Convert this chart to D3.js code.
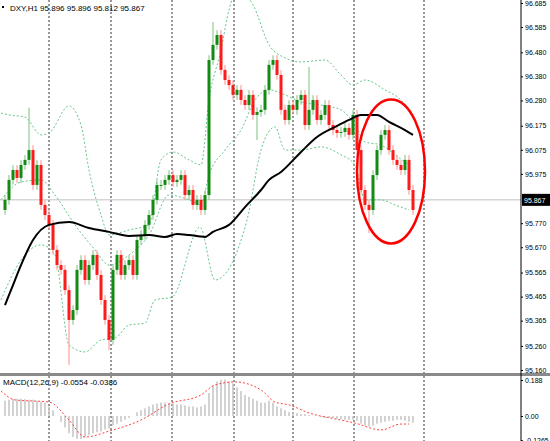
<!DOCTYPE html>
<html><head><meta charset="utf-8">
<script src="https://cdn.jsdelivr.net/npm/d3@7"></script>
<style>body{margin:0;background:#fff}text{font-family:"Liberation Sans",Arial,sans-serif}</style>
</head><body><svg id="chart" width="550" height="441"></svg>
<script>
// closes, one per hourly candle (open = previous close)
const closes = [95.867,95.950,95.991,95.958,96.012,96.033,96.074,95.929,96.012,95.846,
95.804,95.763,95.659,95.596,95.576,95.492,95.368,95.409,95.576,95.617,
95.534,95.596,95.638,95.555,95.451,95.368,95.285,95.576,95.638,95.555,
95.596,95.617,95.555,95.700,95.721,95.763,95.804,95.867,95.929,95.929,
95.950,95.970,95.941,95.950,95.970,95.887,95.908,95.846,95.867,95.825,
95.887,96.448,96.511,96.552,96.407,96.365,96.344,96.303,96.324,96.282,
96.261,96.303,96.220,96.232,96.241,96.324,96.428,96.448,96.386,96.241,
96.199,96.261,96.241,96.282,96.303,96.178,96.241,96.282,96.199,96.220,
96.261,96.178,96.157,96.145,96.149,96.166,96.137,96.220,96.074,95.908,
95.846,95.825,95.970,96.074,96.137,96.157,96.074,96.033,96.012,95.991,
96.033,95.908,95.825];
const firstOpen = 95.825;
const highs = {6: 96.25, 52: 96.606, 76: 96.419};
const lows = {16: 95.181, 26: 95.243, 63: 96.116, 91: 95.729};

const maIdx = [0,2,4,7,11,16,21,26,31,36,40,43,46,50,52,56,60,64,66,69,74,78,83,86,89,93,96,100,102];
const maVal = [95.430,95.513,95.596,95.700,95.763,95.775,95.750,95.734,95.717,95.721,95.713,95.725,95.721,95.713,95.734,95.763,95.837,95.908,95.950,95.983,96.066,96.128,96.174,96.199,96.220,96.220,96.191,96.157,96.137];

const upIdx = [-1,1,5,9,11,16,19,21,24,26,31,36,39,42,46,49,51,54,56,58,62,66,70,74,80,84,87,90,95,99,101];
const upVal = [96.228,96.220,96.211,96.137,96.145,96.257,96.178,95.991,95.804,95.721,95.742,95.763,96.033,96.066,96.033,96.012,96.282,96.490,96.656,96.739,96.677,96.511,96.457,96.440,96.448,96.386,96.344,96.365,96.324,96.282,96.241];
const midIdx = [-1,4,9,12.5,17.5,22.5,26,31,36,41,46,49,51,55,59,62.5,66,70,74,79,84,87.5,90,94,97.5,101];
const midVal = [95.867,95.941,95.950,95.887,95.763,95.659,95.596,95.638,95.721,95.887,95.867,95.846,95.970,96.074,96.157,96.282,96.324,96.303,96.274,96.261,96.241,96.178,96.108,96.095,96.054,96.012];
const loIdx = [-1,4,9,12.5,16,20,24,27.5,31,35,37.5,41.75,48.75,52.5,60.5,64,67.5,70,74,79,84,87.5,90,94,97.5,101];
const loVal = [95.451,95.617,95.680,95.638,95.264,95.235,95.285,95.293,95.347,95.355,95.451,95.463,95.754,95.534,95.783,96.074,96.170,96.074,96.074,96.087,96.054,96.012,95.867,95.867,95.846,95.825];

const macdHist = [0.08,0.085,0.09,0.09,0.09,0.088,0.085,0.085,0.08,0.075,0.07,0.05,
0.03,0.0,-0.03,
-0.06,-0.09,-0.11,-0.12,-0.12,-0.11,-0.10,
-0.09,-0.085,-0.08,-0.07,-0.065,
-0.05,-0.04,-0.03,-0.02,-0.01,0.0,0.02,0.03,
0.04,0.05,0.06,0.065,0.07,0.07,0.065,0.065,0.06,0.06,0.055,0.05,0.05,0.045,
0.05,0.06,
0.12,0.16,0.18,0.19,0.19,0.18,0.17,0.15,
0.13,0.11,0.10,0.09,0.08,0.07,0.07,0.08,0.07,
0.05,0.04,0.03,0.02,0.02,0.015,
0.01,0.01,0.005,0.0,0.0,-0.005,-0.01,-0.01,
-0.01,-0.015,-0.015,-0.02,-0.02,-0.02,-0.025,
-0.04,-0.05,-0.055,-0.05,
-0.04,-0.035,-0.03,-0.025,-0.025,-0.02,-0.02,-0.025,-0.03,-0.035];
const sigIdx = [-1,2.5,11,16,20,26,34,41,49,52.5,57.5,64,67.5,71,76,84,87.5,94,99,101];
const sigVal = [0.131,0.084,0.073,-0.021,-0.110,-0.079,-0.021,0.063,0.110,0.162,0.178,0.136,0.073,0.058,0.016,-0.021,-0.037,-0.073,-0.042,-0.042];

const priceTicks = [96.685,96.585,96.480,96.380,96.280,96.175,96.075,95.975,95.770,95.670,95.565,95.465,95.365,95.260,95.160];
const macdTicks = [["0.188",0.188],["0.00",0],["-0.1265",-0.1265]];
const lastPrice = 95.867;
const gridIdx = [11,26.5,41.75,57.25,72,87.25,104.75];

const svg = d3.select("#chart");
const W = 521;
const x = d3.scaleLinear().domain([0, 102]).range([5, 413]);
const y = d3.scaleLinear().domain([95.160, 96.685]).range([370, 3]);
const ym = d3.scaleLinear().domain([0, 0.188]).range([416, 380]);

// vertical dotted grid
svg.selectAll(".grid").data(gridIdx).enter().append("line")
  .attr("x1", d => x(d)).attr("x2", d => x(d)).attr("y1", 0).attr("y2", 441)
  .attr("stroke", "#333").attr("stroke-dasharray", "2,2").attr("stroke-width", 1);

// last price line
svg.append("line").attr("x1", 0).attr("x2", W).attr("y1", y(lastPrice)).attr("y2", y(lastPrice))
  .attr("stroke", "#c0c0c0");

// bollinger bands
const bandLine = d3.line().x(d => x(d[0])).y(d => y(d[1])).curve(d3.curveMonotoneX);
[[upIdx, upVal], [midIdx, midVal], [loIdx, loVal]].forEach(b => {
  svg.append("path").attr("d", bandLine(d3.zip(b[0], b[1])))
    .attr("fill", "none").attr("stroke", "#66c68a").attr("stroke-dasharray", "2,2").attr("stroke-width", 1);
});

// candles
const candles = closes.map((c, i) => {
  const o = i == 0 ? firstOpen : closes[i - 1];
  return {i: i, o: o, c: c,
    h: highs[i] || Math.max(o, c) + 0.02,
    l: lows[i] || Math.min(o, c) - 0.02};
});
const col = d => d.c >= d.o ? "#138a13" : "#ff1a1a";
svg.selectAll(".wick").data(candles).enter().append("line")
  .attr("x1", d => x(d.i)).attr("x2", d => x(d.i)).attr("y1", d => y(d.h)).attr("y2", d => y(d.l))
  .attr("stroke", d => d.c >= d.o ? "#7cc07c" : "#ff8c8c").attr("stroke-width", 1);
svg.selectAll(".body").data(candles).enter().append("rect")
  .attr("x", d => x(d.i) - 1.5).attr("width", 3)
  .attr("y", d => y(Math.max(d.o, d.c)))
  .attr("height", d => Math.max(1, Math.abs(y(d.o) - y(d.c))))
  .attr("fill", col);

// moving average
svg.append("path").attr("d", bandLine(d3.zip(maIdx, maVal)))
  .attr("fill", "none").attr("stroke", "#000").attr("stroke-width", 2);

// highlight ellipse
svg.append("ellipse").attr("cx", x(96.5)).attr("cy", y(95.985)).attr("rx", 34).attr("ry", 72)
  .attr("fill", "none").attr("stroke", "#ff0000").attr("stroke-width", 2.5);

// pane separator
svg.append("rect").attr("x", 0).attr("y", 373).attr("width", 550).attr("height", 3).attr("fill", "#8a8a8a");

// macd histogram + signal
svg.selectAll(".hist").data(macdHist).enter().append("rect")
  .attr("x", (d, i) => x(i) - 0.75).attr("width", 1.5)
  .attr("y", d => Math.min(ym(d), ym(0))).attr("height", d => Math.abs(ym(d) - ym(0)))
  .attr("fill", "#c4c4c4");
svg.append("path")
  .attr("d", d3.line().x(d => x(d[0])).y(d => ym(d[1])).curve(d3.curveMonotoneX)(d3.zip(sigIdx, sigVal)))
  .attr("fill", "none").attr("stroke", "#ff4040").attr("stroke-dasharray", "2,2").attr("stroke-width", 1);

// right axis
svg.append("line").attr("x1", W).attr("x2", W).attr("y1", 0).attr("y2", 441).attr("stroke", "#000");
const yAxis = svg.append("g").attr("transform", `translate(${W},0)`)
  .call(d3.axisRight(y).tickValues(priceTicks).tickFormat(d3.format(".3f")).tickSize(2));
const mAxis = svg.append("g").attr("transform", `translate(${W},0)`)
  .call(d3.axisRight(ym).tickValues(macdTicks.map(d => d[1])).tickFormat((d, i) => macdTicks[i][0]).tickSize(2));
[yAxis, mAxis].forEach(a => {
  a.select(".domain").remove();
  a.selectAll("text").attr("font-size", 7).attr("font-family", "Liberation Sans").attr("x", 4).attr("fill", "#000");
});
svg.append("rect").attr("x", W + 1).attr("y", y(lastPrice) - 6).attr("width", 28).attr("height", 12).attr("fill", "#000");
svg.append("text").attr("x", W + 3).attr("y", y(lastPrice) + 3).attr("font-size", 7).attr("fill", "#fff").text(lastPrice.toFixed(3));

// titles
svg.append("rect").attr("x", 2).attr("y", 6).attr("width", 2).attr("height", 2).attr("fill", "#000");
svg.append("text").attr("x", 10).attr("y", 11).attr("font-size", 8).text("DXY,H1  95.896 95.896 95.812 95.867");
svg.append("text").attr("x", 3).attr("y", 385).attr("font-size", 8).text("MACD(12,26,9) -0.0554 -0.0386");
</script></body></html>
